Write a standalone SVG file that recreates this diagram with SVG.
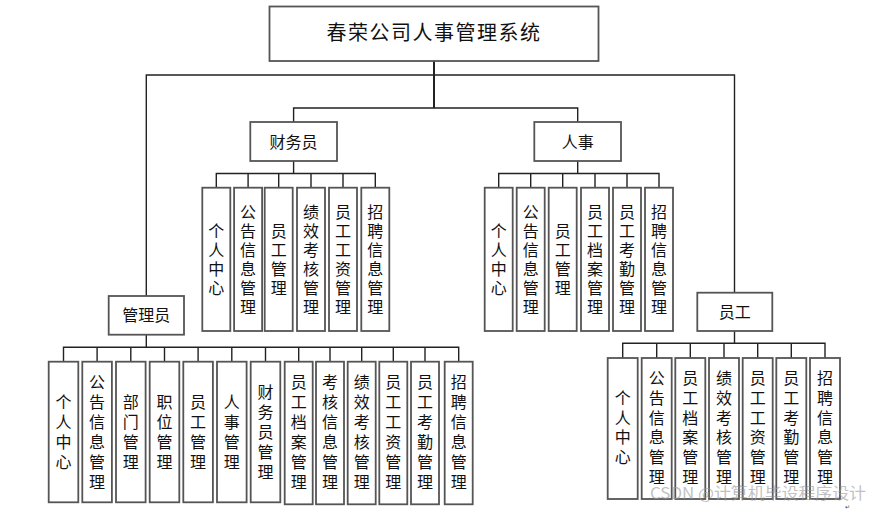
<svg xmlns="http://www.w3.org/2000/svg" width="870" height="511" viewBox="0 0 870 511">
<style>
.box{fill:#fff;stroke:#555;stroke-width:1.8}
.ln{fill:none;stroke:#222;stroke-width:1.4}
.t{font-family:"Noto Sans CJK SC","Liberation Sans",sans-serif;font-size:16px;fill:#111;text-anchor:middle}
.v{font-family:"Noto Sans CJK SC","Liberation Sans",sans-serif;font-size:16px;fill:#111;text-anchor:middle;writing-mode:vertical-rl;text-orientation:upright}
.a{letter-spacing:3px}
.b{letter-spacing:4px}
.c{letter-spacing:3.7px}
.title{font-family:"Noto Sans CJK SC","Liberation Sans",sans-serif;font-size:20px;fill:#111;text-anchor:middle;letter-spacing:1.5px}
.wm{font-family:"Noto Sans CJK SC","Liberation Sans",sans-serif;font-size:15.5px;fill:#999;opacity:0.6}
</style>
<rect width="870" height="511" fill="#fff"/>
<g id="connectors">
<path class="ln" style="stroke-width:2" d="M434,61V108"/>
<path class="ln" d="M146.3,296V75H734.5V292.7"/>
<path class="ln" d="M293.6,122V108H577.7V122"/>
<path class="ln" d="M293.6,161V173.5M216.3,187.7V173.5H375.3V187.7M248.1,173.5V187.7M278.7,173.5V187.7M311,173.5V187.7M343,173.5V187.7"/>
<path class="ln" d="M577.7,161V173.5M498.7,187.7V173.5H659V187.7M530.7,173.5V187.7M562.7,173.5V187.7M595,173.5V187.7M627,173.5V187.7"/>
<path class="ln" d="M146.3,334.7V347.3M63.5,361.7V347.3H458.7V361.7M97.1,347.3V361.7M130.8,347.3V361.7M164.5,347.3V361.7M198.1,347.3V361.7M231.8,347.3V361.7M265.5,347.3V361.7M298.7,347.3V361.7M330,347.3V361.7M361.7,347.3V361.7M393.3,347.3V361.7M425,347.3V361.7"/>
<path class="ln" d="M734.5,331V343.3M622.7,358V343.3H825V358M656.7,343.3V358M690.3,343.3V358M724,343.3V358M757.7,343.3V358M791.3,343.3V358"/>
</g>
<g id="root">
<rect class="box" x="269.5" y="6.5" width="329" height="54.5"/>
<text class="title" x="434" y="40">春荣公司人事管理系统</text>
</g>
<g id="caiwuyuan">
<rect class="box" x="250.3" y="122" width="86.7" height="39"/>
<text class="t" x="293.6" y="147.5">财务员</text>
</g>
<g id="renshi">
<rect class="box" x="534.3" y="122" width="86.7" height="39"/>
<text class="t" x="577.7" y="147.5">人事</text>
</g>
<g id="guanliyuan">
<rect class="box" x="108.7" y="296" width="75.3" height="38.7"/>
<text class="t" x="146.3" y="321">管理员</text>
</g>
<g id="yuangong">
<rect class="box" x="697.3" y="292.7" width="75" height="38.3"/>
<text class="t" x="734.8" y="317.5">员工</text>
</g>
<!-- 财务员 children -->
<g id="cw1"><rect class="box" x="202.3" y="187.7" width="28" height="143.3"/><text class="v a" x="216.3" y="260.8">个人中心</text></g>
<g id="cw2"><rect class="box" x="234.1" y="187.7" width="28" height="143.3"/><text class="v a" x="248.1" y="260.8">公告信息管理</text></g>
<g id="cw3"><rect class="box" x="264.7" y="187.7" width="28" height="143.3"/><text class="v a" x="278.7" y="260.8">员工管理</text></g>
<g id="cw4"><rect class="box" x="297" y="187.7" width="28" height="143.3"/><text class="v a" x="311" y="260.8">绩效考核管理</text></g>
<g id="cw5"><rect class="box" x="329" y="187.7" width="28" height="143.3"/><text class="v a" x="343" y="260.8">员工工资管理</text></g>
<g id="cw6"><rect class="box" x="361.3" y="187.7" width="28" height="143.3"/><text class="v a" x="375.3" y="260.8">招聘信息管理</text></g>
<!-- 人事 children -->
<g id="rs1"><rect class="box" x="484.7" y="187.7" width="28" height="143.3"/><text class="v a" x="498.7" y="260.8">个人中心</text></g>
<g id="rs2"><rect class="box" x="516.7" y="187.7" width="28" height="143.3"/><text class="v a" x="530.7" y="260.8">公告信息管理</text></g>
<g id="rs3"><rect class="box" x="548.7" y="187.7" width="28" height="143.3"/><text class="v a" x="562.7" y="260.8">员工管理</text></g>
<g id="rs4"><rect class="box" x="581" y="187.7" width="28" height="143.3"/><text class="v a" x="595" y="260.8">员工档案管理</text></g>
<g id="rs5"><rect class="box" x="613" y="187.7" width="28" height="143.3"/><text class="v a" x="627" y="260.8">员工考勤管理</text></g>
<g id="rs6"><rect class="box" x="645" y="187.7" width="28" height="143.3"/><text class="v a" x="659" y="260.8">招聘信息管理</text></g>
<!-- 管理员 children -->
<g id="gl1"><rect class="box" x="48.7" y="361.7" width="29.6" height="140.6"/><text class="v b" x="63.5" y="433.5">个人中心</text></g>
<g id="gl2"><rect class="box" x="82.3" y="361.7" width="29.6" height="140.6"/><text class="v b" x="97.1" y="433.5">公告信息管理</text></g>
<g id="gl3"><rect class="box" x="116" y="361.7" width="29.6" height="140.6"/><text class="v b" x="130.8" y="433.5">部门管理</text></g>
<g id="gl4"><rect class="box" x="149.7" y="361.7" width="29.6" height="140.6"/><text class="v b" x="164.5" y="433.5">职位管理</text></g>
<g id="gl5"><rect class="box" x="183.3" y="361.7" width="29.6" height="140.6"/><text class="v b" x="198.1" y="433.5">员工管理</text></g>
<g id="gl6"><rect class="box" x="217" y="361.7" width="29.6" height="140.6"/><text class="v b" x="231.8" y="433.5">人事管理</text></g>
<g id="gl7"><rect class="box" x="250.7" y="361.7" width="29.6" height="140.6"/><text class="v b" x="265.5" y="433.5">财务员管理</text></g>
<g id="gl8"><rect class="box" x="284.7" y="361.7" width="28" height="142.6"/><text class="v b" x="298.7" y="433.5">员工档案管理</text></g>
<g id="gl9"><rect class="box" x="316" y="361.7" width="28" height="142.6"/><text class="v b" x="330" y="433.5">考核信息管理</text></g>
<g id="gl10"><rect class="box" x="347.7" y="361.7" width="28" height="142.6"/><text class="v b" x="361.7" y="433.5">绩效考核管理</text></g>
<g id="gl11"><rect class="box" x="379.3" y="361.7" width="28" height="142.6"/><text class="v b" x="393.3" y="433.5">员工工资管理</text></g>
<g id="gl12"><rect class="box" x="411" y="361.7" width="28" height="142.6"/><text class="v b" x="425" y="433.5">员工考勤管理</text></g>
<g id="gl13"><rect class="box" x="444.7" y="361.7" width="28" height="142.6"/><text class="v b" x="458.7" y="433.5">招聘信息管理</text></g>
<!-- 员工 children -->
<g id="yg1"><rect class="box" x="607.7" y="358" width="30" height="141"/><text class="v c" x="622.7" y="429.4">个人中心</text></g>
<g id="yg2"><rect class="box" x="641.7" y="358" width="30" height="141"/><text class="v c" x="656.7" y="429.4">公告信息管理</text></g>
<g id="yg3"><rect class="box" x="675.3" y="358" width="30" height="141"/><text class="v c" x="690.3" y="429.4">员工档案管理</text></g>
<g id="yg4"><rect class="box" x="709" y="358" width="30" height="141"/><text class="v c" x="724" y="429.4">绩效考核管理</text></g>
<g id="yg5"><rect class="box" x="742.7" y="358" width="30" height="141"/><text class="v c" x="757.7" y="429.4">员工工资管理</text></g>
<g id="yg6"><rect class="box" x="776.3" y="358" width="30" height="141"/><text class="v c" x="791.3" y="429.4">员工考勤管理</text></g>
<g id="yg7"><rect class="box" x="810" y="358" width="30" height="141"/><text class="v c" x="825" y="429.4">招聘信息管理</text></g>
<text class="wm" x="650" y="499" textLength="216" lengthAdjust="spacingAndGlyphs">CSDN @计算机毕设程序设计</text>
<text x="845" y="509.3" style="font-family:'DejaVu Sans',sans-serif;font-size:6px;fill:#444">↵</text>
</svg>
